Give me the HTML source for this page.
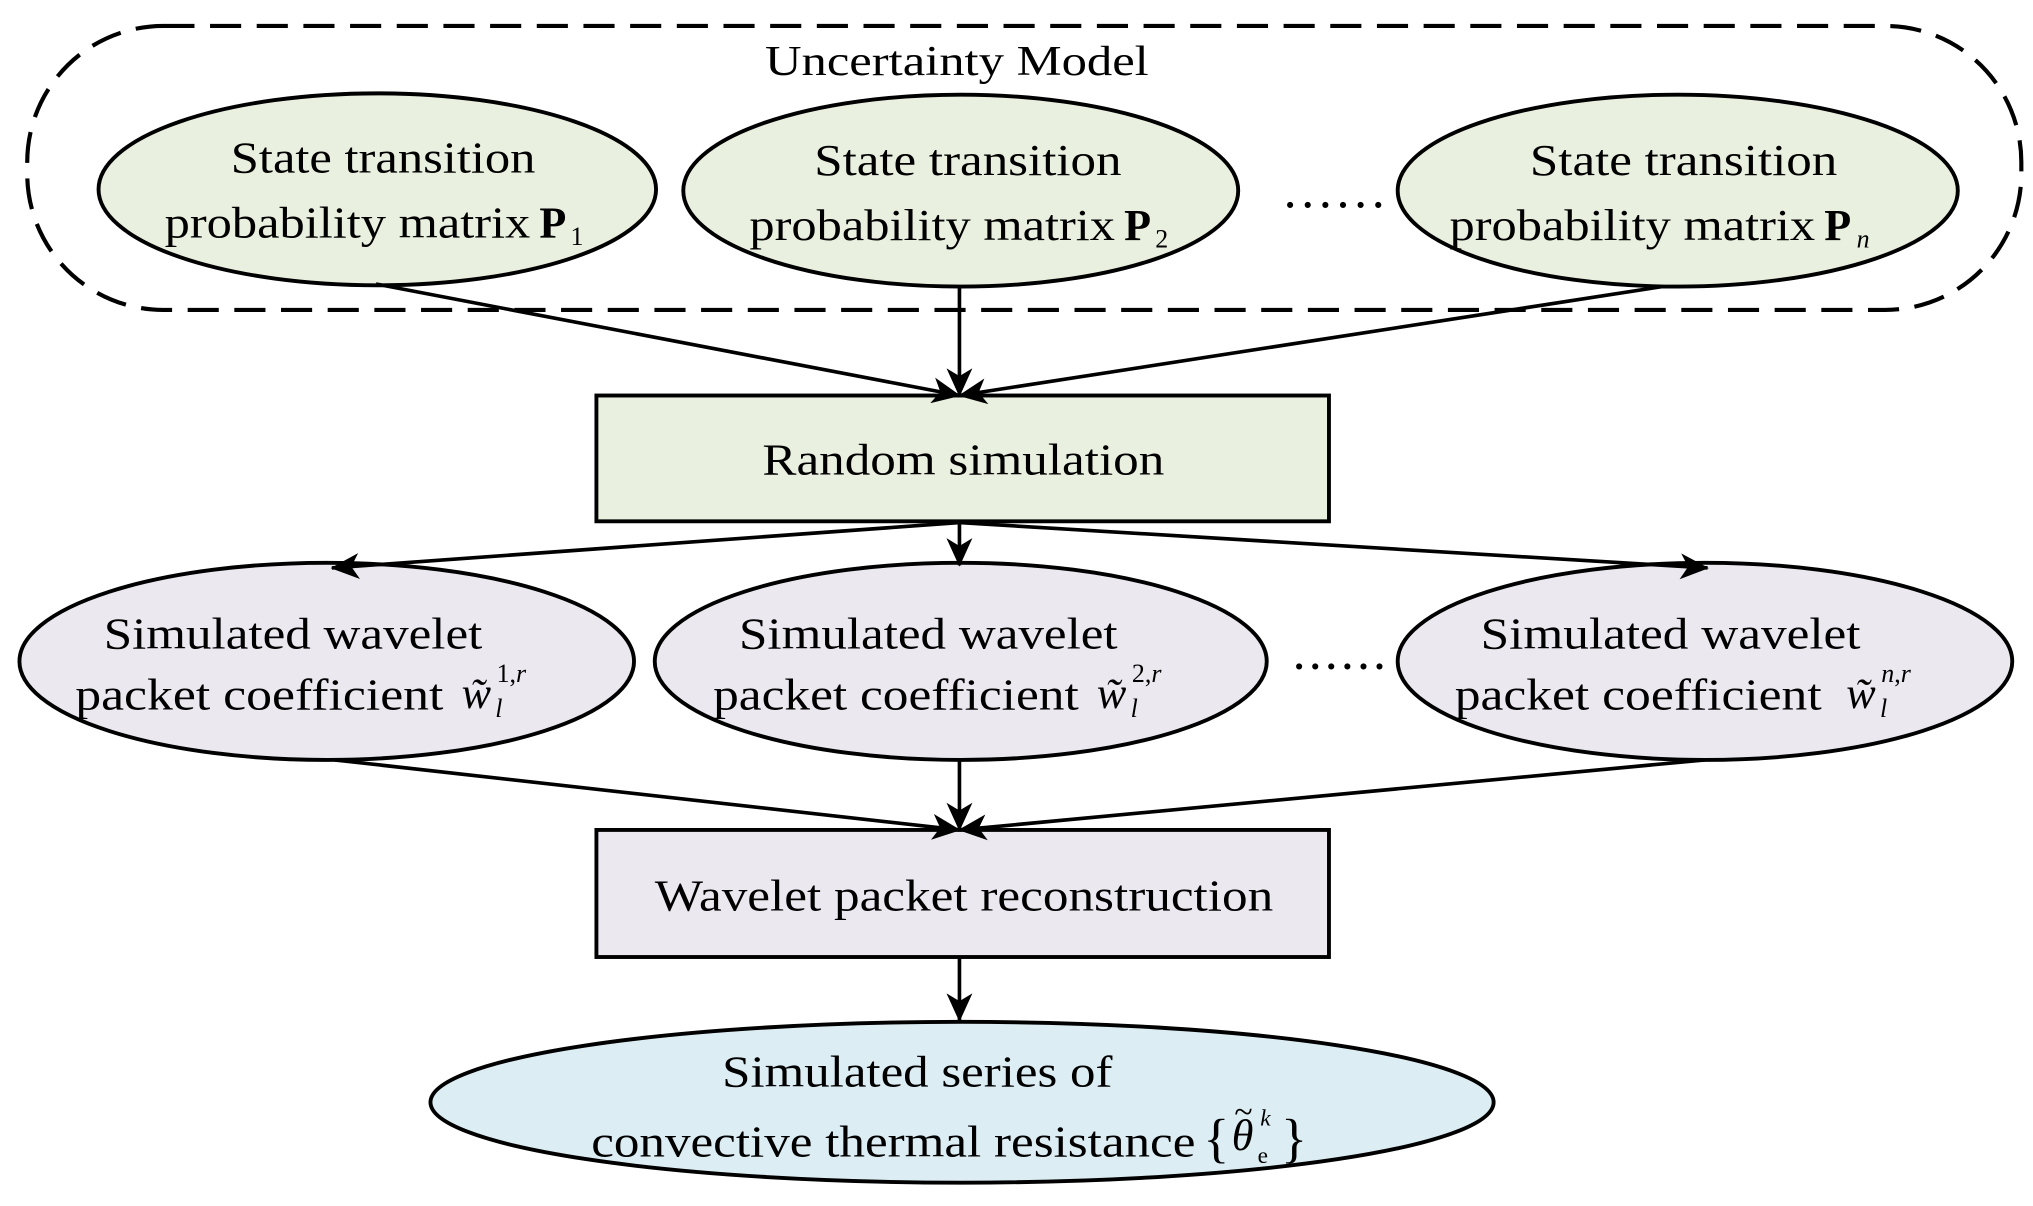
<!DOCTYPE html>
<html><head><meta charset="utf-8"><style>
html,body{margin:0;padding:0;background:#fff;}
svg{display:block;}
text{font-family:"Liberation Serif",serif;fill:#000;}
</style></head><body>
<svg width="2033" height="1206" viewBox="0 0 1568 930" preserveAspectRatio="none" xmlns="http://www.w3.org/2000/svg">
<defs>
<marker id="a" viewBox="0 0 22 20" refX="21" refY="10" markerWidth="22" markerHeight="20" markerUnits="userSpaceOnUse" orient="auto">
<path d="M0,0 L22,10 L0,20 L6,10 Z" fill="#000"/>
</marker>
</defs>
<rect x="21" y="20" width="1538" height="219" rx="105" ry="105" fill="none" stroke="#000" stroke-width="3.2" stroke-dasharray="24,12"/>
<text x="590" y="58" font-size="33" textLength="296" lengthAdjust="spacingAndGlyphs">Uncertainty Model</text>

<g fill="#e9f0df" stroke="#000" stroke-width="3">
<ellipse cx="291" cy="146" rx="215" ry="74"/>
<ellipse cx="741" cy="147" rx="214" ry="74"/>
<ellipse cx="1294" cy="147" rx="216" ry="74"/>
<rect x="460" y="305" width="565" height="97"/>
</g>
<g fill="#ebe8f0" stroke="#000" stroke-width="3">
<ellipse cx="252" cy="510" rx="237" ry="76"/>
<ellipse cx="741" cy="510" rx="236" ry="76"/>
<ellipse cx="1315" cy="510" rx="237" ry="76"/>
<rect x="460" y="640" width="565" height="98"/>
</g>
<ellipse cx="742" cy="850" rx="410" ry="62" fill="#dcedf3" stroke="#000" stroke-width="3"/>

<g stroke="#000" stroke-width="2.8" fill="none" marker-end="url(#a)">
<line x1="290" y1="219" x2="740" y2="305"/>
<line x1="740" y1="221" x2="740" y2="305"/>
<line x1="1282" y1="221" x2="740" y2="305"/>
<line x1="740" y1="403" x2="256" y2="438"/>
<line x1="740" y1="403" x2="740" y2="436"/>
<line x1="740" y1="403" x2="1317" y2="438"/>
<line x1="258" y1="586" x2="740" y2="640"/>
<line x1="740" y1="586" x2="740" y2="640"/>
<line x1="1315" y1="586" x2="740" y2="640"/>
<line x1="740" y1="738" x2="740" y2="787"/>
</g>

<g font-size="34">
<text x="178" y="133" textLength="235" lengthAdjust="spacingAndGlyphs">State transition</text>
<text x="127" y="183" textLength="282" lengthAdjust="spacingAndGlyphs">probability matrix</text>
<text x="416" y="183" font-weight="bold">P</text><text x="440" y="189" font-size="20">1</text>

<text x="628" y="135" textLength="237" lengthAdjust="spacingAndGlyphs">State transition</text>
<text x="578" y="185" textLength="282" lengthAdjust="spacingAndGlyphs">probability matrix</text>
<text x="867" y="185" font-weight="bold">P</text><text x="891" y="191" font-size="20">2</text>

<text x="1180" y="135" textLength="237" lengthAdjust="spacingAndGlyphs">State transition</text>
<text x="1118" y="185" textLength="282" lengthAdjust="spacingAndGlyphs">probability matrix</text>
<text x="1407" y="185" font-weight="bold">P</text><text x="1432" y="191" font-size="20" font-style="italic">n</text>

<text x="990" y="160" font-size="40" textLength="78" lengthAdjust="spacing">......</text>
<text x="997" y="516" font-size="40" textLength="72" lengthAdjust="spacing">......</text>

<text x="588" y="366" textLength="310" lengthAdjust="spacingAndGlyphs">Random simulation</text>

<text x="80" y="500" textLength="292" lengthAdjust="spacingAndGlyphs">Simulated wavelet</text>
<text x="58" y="547" textLength="284" lengthAdjust="spacingAndGlyphs">packet coefficient</text>
<text x="356" y="546" font-style="italic">w̃</text><text x="383" y="526" font-size="20">1,<tspan font-style="italic">r</tspan></text><text x="382" y="553" font-size="20" font-style="italic">l</text>

<text x="570" y="500" textLength="292" lengthAdjust="spacingAndGlyphs">Simulated wavelet</text>
<text x="550" y="547" textLength="282" lengthAdjust="spacingAndGlyphs">packet coefficient</text>
<text x="846" y="546" font-style="italic">w̃</text><text x="873" y="526" font-size="20">2,<tspan font-style="italic">r</tspan></text><text x="872" y="553" font-size="20" font-style="italic">l</text>

<text x="1142" y="500" textLength="293" lengthAdjust="spacingAndGlyphs">Simulated wavelet</text>
<text x="1122" y="547" textLength="283" lengthAdjust="spacingAndGlyphs">packet coefficient</text>
<text x="1424" y="546" font-style="italic">w̃</text><text x="1451" y="526" font-size="20" font-style="italic">n<tspan font-style="normal">,</tspan>r</text><text x="1450" y="553" font-size="20" font-style="italic">l</text>

<text x="505" y="702" textLength="477" lengthAdjust="spacingAndGlyphs">Wavelet packet reconstruction</text>

<text x="557" y="838" textLength="301" lengthAdjust="spacingAndGlyphs">Simulated series of</text>
<text x="456" y="892" textLength="466" lengthAdjust="spacingAndGlyphs">convective thermal resistance</text>
<text x="928" y="892" font-size="42">{</text>
<text x="950" y="887" font-style="italic">θ</text>
<text x="952" y="866" font-size="26">~</text>
<text x="972" y="868" font-size="18" font-style="italic">k</text>
<text x="970" y="897" font-size="18">e</text>
<text x="988" y="892" font-size="42">}</text>
</g>
</svg>
</body></html>
